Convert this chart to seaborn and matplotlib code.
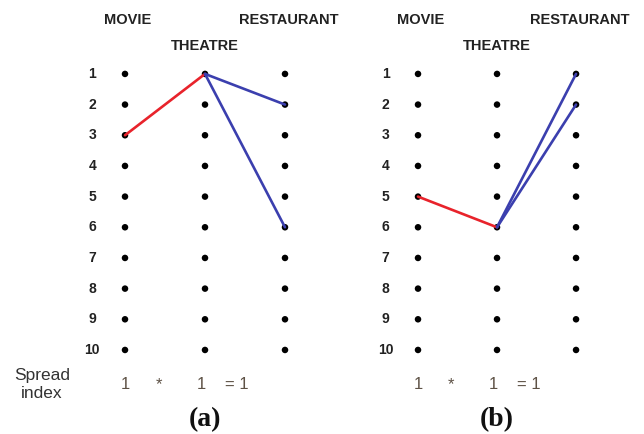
import matplotlib
matplotlib.use("Agg")
import matplotlib.pyplot as plt
import numpy as np
import pandas as pd
import seaborn as sns

# data
venues = ["MOVIE", "THEATRE", "RESTAURANT"]
ranks = list(range(1, 11))
spread_terms = ["1", "*", "1", "= 1"]
panel_labels = ["(a)", "(b)"]

# chosen links per panel: (from venue, from rank, to venue, to rank)
red_links_a = [("MOVIE", 3, "THEATRE", 1)]
blue_links_a = [("THEATRE", 1, "RESTAURANT", 2), ("THEATRE", 1, "RESTAURANT", 6)]
red_links_b = [("MOVIE", 5, "THEATRE", 6)]
blue_links_b = [("THEATRE", 6, "RESTAURANT", 1), ("THEATRE", 6, "RESTAURANT", 2)]

RED = "#e8232b"
BLUE = "#3b3fae"
TEXT = "#222222"
SPREAD = "#5e5246"

sns.set_theme(style="white")
plt.rcParams["font.family"] = ["Liberation Sans", "DejaVu Sans"]

fig = plt.figure(figsize=(6.44, 4.34), dpi=100)

grid = pd.DataFrame(
    [(v, i, r) for i, v in enumerate(venues) for r in ranks],
    columns=["venue", "col", "rank"],
)


def draw_panel(ax, red_links, blue_links, label, xlim, show_spread_label):
    col_of = {v: i for i, v in enumerate(venues)}
    sns.scatterplot(data=grid, x="col", y="rank", color="black", s=22,
                    edgecolor="none", ax=ax, legend=False, zorder=2)
    for links, color in ((red_links, RED), (blue_links, BLUE)):
        for v0, r0, v1, r1 in links:
            seg = pd.DataFrame({"col": [col_of[v0], col_of[v1]], "rank": [r0, r1]})
            sns.lineplot(data=seg, x="col", y="rank", color=color, lw=1.9,
                         sort=False, estimator=None, ax=ax, zorder=3)

    ax.set_xlim(*xlim)
    ax.set_ylim(12.74, -1.41)
    ax.axis("off")

    # column headers: outer ones on top row, middle one staggered below
    ax.text(0.03, -0.76, venues[0], ha="center", va="center", fontsize=10.5,
            fontweight="bold", color=TEXT)
    ax.text(1.0, 0.09, venues[1], ha="center", va="center", fontsize=10.5,
            fontweight="bold", color=TEXT)
    ax.text(2.05, -0.76, venues[2], ha="center", va="center", fontsize=10.5,
            fontweight="bold", color=TEXT)

    for r in ranks:
        ax.text(-0.41, r, str(r), ha="center", va="center", fontsize=10,
                fontweight="bold", color=TEXT)

    xs = [0.0, 0.42, 0.95, 1.4]
    for x, t in zip(xs, spread_terms):
        ax.text(x, 11.12, t, ha="center", va="center", fontsize=12,
                color=SPREAD)
    if show_spread_label:
        ax.text(-1.04, 11.12, "Spread\nindex", ha="center", va="center",
                fontsize=12.5, color="#333333", linespacing=1.25)

    ax.text(1.0, 12.26, label, ha="center", va="center", fontsize=20,
            fontweight="bold", family=["Liberation Serif", "DejaVu Serif"],
            color="#111111")


ax_a = fig.add_axes([0.0, 0.0, 0.5, 1.0])
draw_panel(ax_a, red_links_a, blue_links_a, panel_labels[0],
           (-1.5625, 2.4625), True)

ax_b = fig.add_axes([0.5, 0.0, 0.5, 1.0])
draw_panel(ax_b, red_links_b, blue_links_b, panel_labels[1],
           (-1.215, 2.86), False)

fig.savefig("out.png", dpi=100)
plt.close(fig)
